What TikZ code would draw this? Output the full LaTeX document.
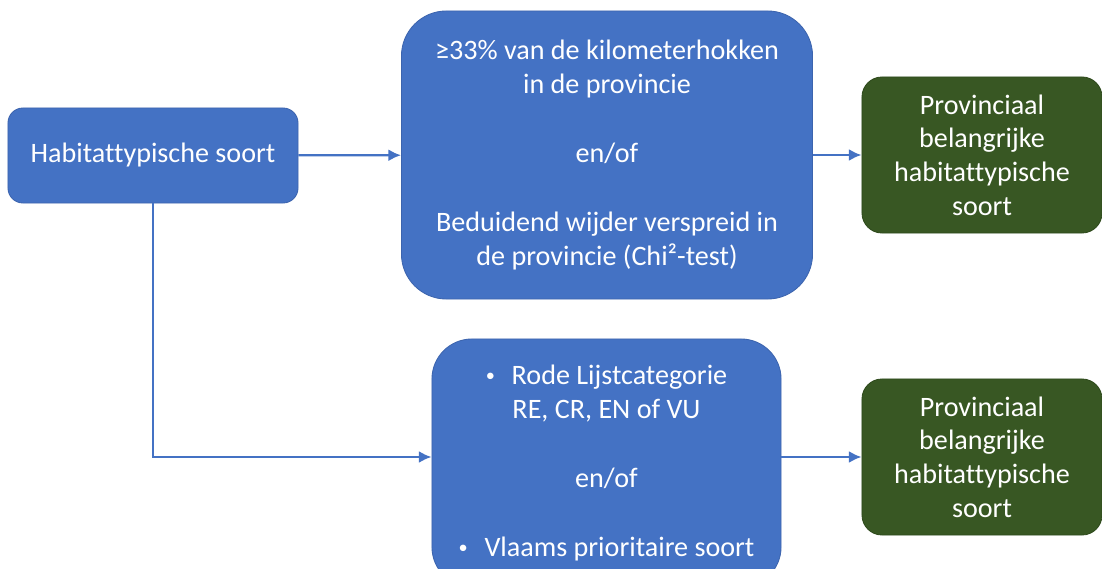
\documentclass[tikz,border=0pt]{standalone}
\usepackage{fontspec}
\setmainfont{Carlito}[Ligatures=NoCommon]
\usetikzlibrary{calc,arrows.meta}
\definecolor{blauw}{HTML}{4472C4}
\definecolor{blauwrand}{HTML}{3C64AE}
\definecolor{groen}{HTML}{385723}
\definecolor{groenrand}{HTML}{2E4A1C}
\newcommand{\opsom}{\raisebox{0.1em}{\fontsize{13}{13}\selectfont\textbullet}\hspace{0.6em}}

\begin{document}
\begin{tikzpicture}[x=0.025cm,y=-0.025cm,
  blok/.style={draw=blauwrand,fill=blauw,text=white,align=center,line width=0.6pt,
    font=\fontsize{20}{24}\selectfont,inner sep=0pt},
  eind/.style={blok,draw=groenrand,fill=groen,minimum width=6cm,minimum height=3.9cm,rounded corners=0.5cm},
  pijl/.style={->,>={Latex[length=9pt,width=8.5pt]},draw=blauw,line width=1.6pt}]
\useasboundingbox (0,0) rectangle (1102,569);
\node[blok,minimum width=7.25cm,minimum height=2.375cm,rounded corners=0.375cm] (soort)at(153,155.5){Habitattypische soort};
\node[blok,minimum width=10.275cm,minimum height=7.2cm,rounded corners=1.125cm] (crit1)at(607,155){%
  ≥33\% van de kilometerhokken\\in de provincie\\[25pt]en/of\\[25pt]%
  Beduidend wijder verspreid in\\de provincie (Chi²-test)};
\node[blok,minimum width=8.725cm,minimum height=6.2cm,rounded corners=1cm] (crit2)at(606.5,463){%
  \opsom Rode Lijstcategorie\\RE, CR, EN of VU\\[25pt]en/of\\[25pt]%
  \opsom Vlaams prioritaire soort};
\node[eind] (prov1)at(982,155){Provinciaal\\belangrijke\\habitattypische\\soort};
\node[eind] (prov2)at(982,457){Provinciaal\\belangrijke\\habitattypische\\soort};
\draw[pijl] (soort) -- (crit1);
\draw[pijl] (crit1) -- (prov1);
\draw[pijl] (soort.south) |- (crit2.west|-prov2.west);
\draw[pijl] (crit2.east|-prov2.west) -- (prov2);
\end{tikzpicture}
\end{document}
